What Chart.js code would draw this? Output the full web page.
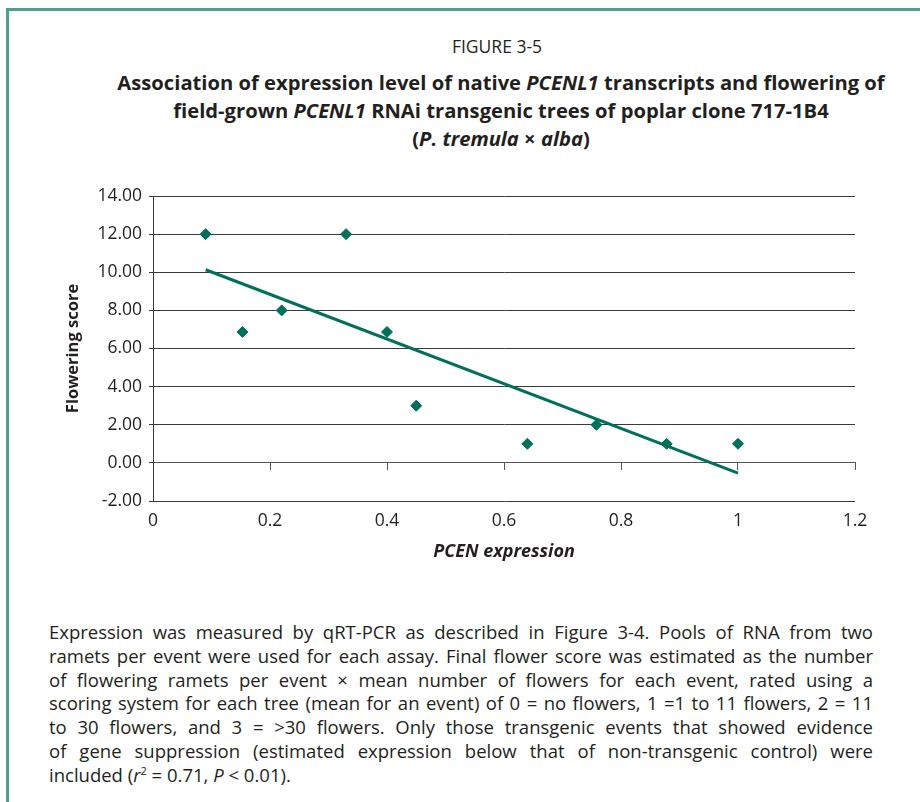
<!DOCTYPE html>
<html><head><meta charset="utf-8">
<script src="https://cdn.jsdelivr.net/npm/chart.js@4"></script>
<style>
body{margin:0;background:#fff;width:920px;height:802px;overflow:hidden;position:relative;font-family:"Open Sans",sans-serif;color:#231f20}
#frame{position:absolute;left:6px;top:8px;width:1000px;height:900px;border-left:3px solid #4f9e8f;border-top:3px solid #4f9e8f}
#fig{position:absolute;left:74px;width:846px;top:34px;text-align:center;font-size:17.5px;line-height:24px}
#title{position:absolute;left:58px;width:886px;top:68px;text-align:center;font-weight:bold;font-size:20.2px;line-height:28px}
#wrap{position:absolute;left:0;top:170px;width:920px;height:420px}
#cap{position:absolute;left:49px;top:620px;width:824px;font-size:18.5px;line-height:23.8px}
#cap div{text-align:justify;text-align-last:justify;white-space:nowrap}
#cap div.last{text-align:left;text-align-last:left}
sup{font-size:11px;line-height:0;vertical-align:7px}
</style></head>
<body>
<div id="frame"></div>
<div id="fig">FIGURE 3-5</div>
<div id="title">Association of expression level of native <i>PCENL1</i> transcripts and flowering of<br>field-grown <i>PCENL1</i> RNAi transgenic trees of poplar clone 717-1B4<br>(<i>P. tremula</i> × <i>alba</i>)</div>
<div id="wrap"><canvas id="c" width="920" height="420"></canvas></div>
<div id="cap">
<div>Expression was measured by qRT-PCR as described in Figure 3-4. Pools of RNA from two</div>
<div>ramets per event were used for each assay. Final flower score was estimated as the number</div>
<div>of flowering ramets per event × mean number of flowers for each event, rated using a</div>
<div>scoring system for each tree (mean for an event) of 0 = no flowers, 1 =1 to 11 flowers, 2 = 11</div>
<div>to 30 flowers, and 3 = &gt;30 flowers. Only those transgenic events that showed evidence</div>
<div>of gene suppression (estimated expression below that of non-transgenic control) were</div>
<div class="last">included (<i>r</i><sup>2</sup> = 0.71, <i>P</i> &lt; 0.01).</div>
</div>
<script>
const expression = [0.09, 0.153, 0.22, 0.33, 0.4, 0.45, 0.64, 0.758, 0.878, 1.0];
const floweringScore = [12, 6.87, 8, 12, 6.87, 3, 1, 2, 1, 1];
const trendX = [0.09, 1.0];
const trendY = [10.13, -0.54];
const xTickLabels = ['0', '0.2', '0.4', '0.6', '0.8', '1', '1.2'];
const yTickLabels = ['-2.00', '0.00', '2.00', '4.00', '6.00', '8.00', '10.00', '12.00', '14.00'];

const GREEN = '#00705b';
const TXT = '#231f20';
const GRID = '#3a3a3a';

new Chart(document.getElementById('c'), {
  type: 'scatter',
  data: {
    datasets: [
      {
        type: 'line',
        data: trendX.map((x, i) => ({x: x, y: trendY[i]})),
        borderColor: GREEN, borderWidth: 3, pointRadius: 0, fill: false, order: 2
      },
      {
        data: expression.map((x, i) => ({x: x, y: floweringScore[i]})),
        pointStyle: 'rectRot', pointRadius: 5.5, backgroundColor: GREEN,
        borderColor: GREEN, borderWidth: 1, order: 1
      }
    ]
  },
  options: {
    responsive: false, animation: false, devicePixelRatio: 1,
    layout: {padding: {left: 0, right: 65, top: 26, bottom: 0}},
    plugins: {legend: {display: false}, tooltip: {enabled: false}},
    scales: {
      x: {
        type: 'linear', min: 0, max: 1.2, position: 'bottom',
        ticks: {stepSize: 0.2, padding: 10, color: TXT, font: {family: 'Open Sans', size: 17.5},
          callback: (v, i) => xTickLabels[i]},
        grid: {display: false, drawTicks: false},
        border: {display: false},
        title: {display: true, text: 'PCEN expression', color: TXT,
          font: {family: 'Open Sans', size: 18, weight: 'bold', style: 'italic'},
          padding: {top: 0, bottom: 27}},
        afterFit: s => { s.height = 89; }
      },
      x2: {
        type: 'linear', axis: 'x', min: 0, max: 1.2, position: {y: 0},
        ticks: {display: false, stepSize: 0.2},
        grid: {drawOnChartArea: false, drawTicks: true, tickLength: 7, color: '#555'},
        border: {display: true, color: '#555', width: 1}
      },
      y: {
        min: -2, max: 14,
        ticks: {stepSize: 2, padding: 7, color: TXT, font: {family: 'Open Sans', size: 17.5},
          callback: (v, i) => yTickLabels[i]},
        grid: {color: GRID, tickLength: 4, drawTicks: true},
        border: {display: true, color: GRID},
        title: {display: true, text: 'Flowering score', color: TXT,
          font: {family: 'Open Sans', size: 16.5, weight: 'bold'},
          padding: {top: 63, bottom: 0}},
        afterFit: s => { s.width = 153; }
      }
    }
  }
});
</script>
</body></html>
